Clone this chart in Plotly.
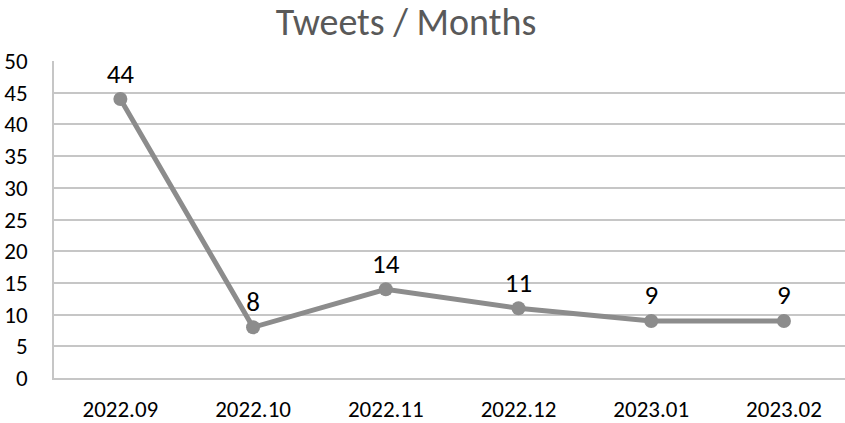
import plotly.graph_objects as go

months = ["2022.09", "2022.10", "2022.11", "2022.12", "2023.01", "2023.02"]
tweets = [44, 8, 14, 11, 9, 9]
y_ticks = list(range(0, 55, 5))

line_color = "#8c8c8c"
grid_color = "#c6c6c6"
font_family = "Carlito, Calibri, Lato, 'Open Sans', sans-serif"

fig = go.Figure(
    go.Scatter(
        x=list(range(len(months))),
        y=tweets,
        mode="lines+markers+text",
        line=dict(color=line_color, width=5),
        marker=dict(color=line_color, size=14),
        text=[str(v) for v in tweets],
        textposition="top center",
        textfont=dict(size=27, color="#000000", family=font_family),
        cliponaxis=False,
        hoverinfo="skip",
    )
)

fig.update_layout(
    width=845,
    height=423,
    margin=dict(l=54, r=0, t=61, b=45, autoexpand=False),
    paper_bgcolor="white",
    plot_bgcolor="white",
    showlegend=False,
    font=dict(family=font_family, color="#000000"),
    title=dict(
        text="Tweets / Months",
        x=406 / 845,
        xanchor="center",
        y=1 - 22 / 423,
        yanchor="middle",
        font=dict(size=38, color="#595959", family=font_family),
    ),
)

fig.update_xaxes(
    range=[-0.5, 5.46],
    tickmode="array",
    tickvals=list(range(len(months))),
    ticktext=months,
    showgrid=False,
    zeroline=False,
    showline=True,
    linecolor=grid_color,
    linewidth=1.5,
    ticks="",
    tickfont=dict(size=23, color="#000000"),
    ticklabelstandoff=10,
    automargin=False,
    fixedrange=True,
)

fig.update_yaxes(
    range=[0, 50],
    tickvals=y_ticks,
    showgrid=True,
    gridcolor=grid_color,
    gridwidth=1.5,
    zeroline=False,
    showline=True,
    linecolor=grid_color,
    linewidth=1.5,
    ticks="",
    tickfont=dict(size=23, color="#000000"),
    ticklabelstandoff=20,
    automargin=False,
    fixedrange=True,
)

fig.write_html("out.html")
